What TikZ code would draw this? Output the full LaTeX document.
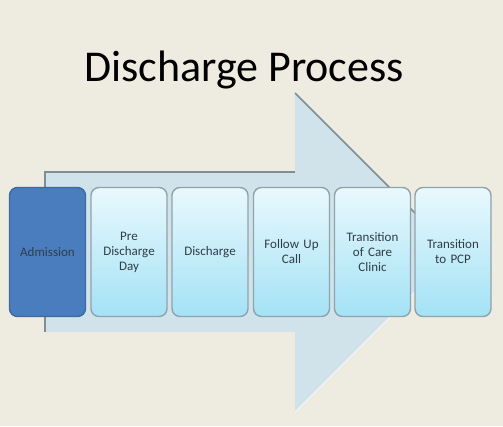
\documentclass[tikz,border=0pt]{standalone}
\usepackage{fontspec}
\setmainfont{Carlito}
\definecolor{bg}{HTML}{EEEBE1}
\definecolor{arrowfill}{HTML}{D1E3EA}
\definecolor{arrowedge}{HTML}{7F8E94}
\definecolor{boxtop}{HTML}{E9F8FD}
\definecolor{boxbot}{HTML}{A4E2F5}
\definecolor{boxedge}{HTML}{8FA3AC}
\definecolor{admfill}{HTML}{4A7DBE}
\definecolor{admedge}{HTML}{3D68A2}
\definecolor{boxtext}{HTML}{2F3D47}
\tikzset{
  stepbox/.style={draw=boxedge, line width=1.4pt, rounded corners=8pt,
    top color=boxtop, bottom color=boxbot, minimum width=76pt, minimum height=129pt,
    inner sep=0pt, text width=72pt, align=center, text=boxtext,
    font=\fontsize{13}{15}\selectfont},
  admbox/.style={stepbox, top color=admfill, bottom color=admfill, draw=admedge, text=boxtext}
}
\begin{document}
\begin{tikzpicture}[x=1pt,y=-1pt]
\fill[bg] (0,0) rectangle (503,426);
\useasboundingbox (0,0) rectangle (503,426);
% big arrow
\fill[arrowfill] (45,172) -- (295,172) -- (295,93) -- (454.5,252.5) -- (295,412) -- (295,332) -- (45,332) -- cycle;
\draw[arrowedge, line width=1.6pt] (45,332) -- (45,172) -- (295,172);
\draw[arrowedge, line width=1.6pt] (295,93) -- (454.5,252.5);
\draw[white!70!arrowfill, line width=1pt] (454.5,252.5) -- (295,412);
% title
\node[font=\fontsize{44}{48}\selectfont, anchor=base] (title) at (244,81) {Discharge Process};
% boxes
\node[admbox] (adm) at (47.5,252) {Admission};
\node[stepbox] (pre) at (129,252) {Pre\\Discharge\\Day};
\node[stepbox] (dis) at (210,252) {Discharge};
\node[stepbox] (fol) at (291.5,252) {Follow Up\\Call};
\node[stepbox] (toc) at (372.5,252) {Transition\\of Care\\Clinic};
\node[stepbox] (pcp) at (453,252) {Transition\\to PCP};
\end{tikzpicture}
\end{document}
